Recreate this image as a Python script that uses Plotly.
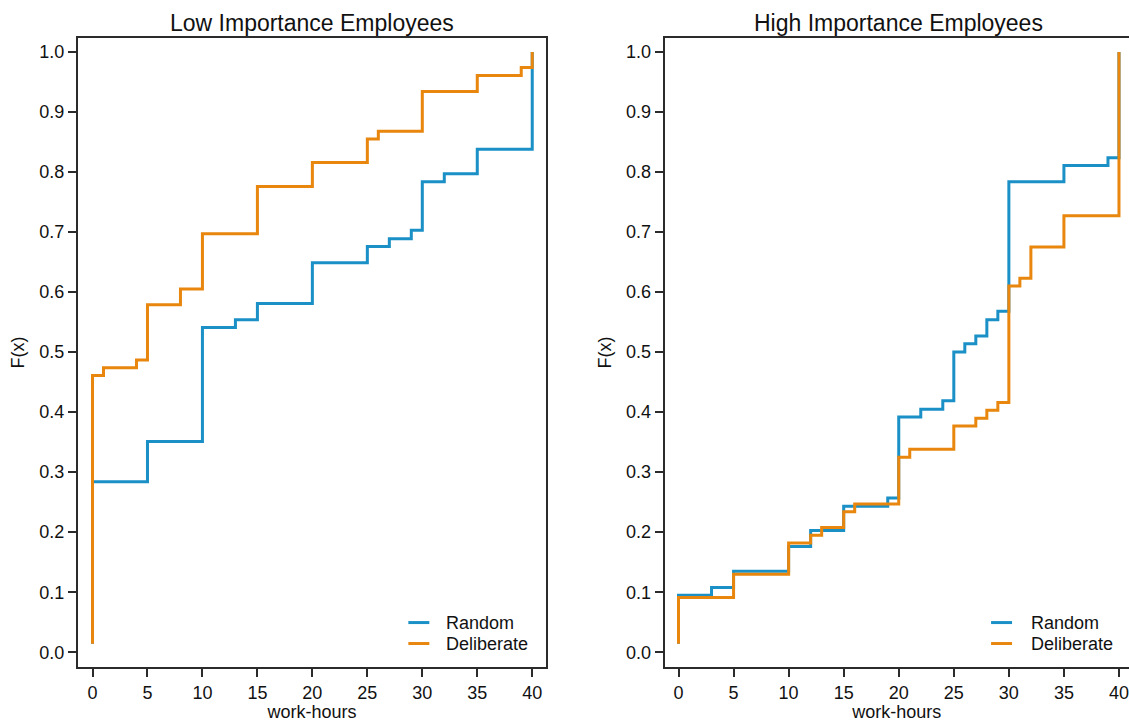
import plotly.graph_objects as go

# ---- data (step points: x where F jumps, F value after the jump) ----
low_random_x = [0, 0, 5, 10, 13, 15, 20, 25, 27, 29, 30, 32, 35, 40]
low_random_y = [0.014, 0.284, 0.351, 0.541, 0.554, 0.581, 0.649, 0.676, 0.689, 0.703, 0.784, 0.797, 0.838, 1.0]

low_delib_x = [0, 0, 1, 4, 5, 8, 10, 15, 20, 25, 26, 30, 35, 39, 40]
low_delib_y = [0.014, 0.461, 0.474, 0.487, 0.579, 0.605, 0.697, 0.776, 0.816, 0.855, 0.868, 0.934, 0.961, 0.974, 1.0]

high_random_x = [0, 0, 3, 5, 10, 12, 15, 19, 20, 22, 24, 25, 26, 27, 28, 29, 30, 35, 39, 40]
high_random_y = [0.014, 0.095, 0.108, 0.135, 0.176, 0.203, 0.243, 0.257, 0.392, 0.405, 0.419, 0.500, 0.514,
                 0.527, 0.554, 0.568, 0.784, 0.811, 0.824, 1.0]

high_delib_x = [0, 0, 5, 10, 12, 13, 15, 16, 20, 21, 25, 27, 28, 29, 30, 31, 32, 35, 40]
high_delib_y = [0.014, 0.091, 0.130, 0.182, 0.195, 0.208, 0.234, 0.247, 0.325, 0.338, 0.377, 0.390, 0.403,
                0.416, 0.610, 0.623, 0.675, 0.727, 1.0]

panel_titles = ["Low Importance Employees", "High Importance Employees"]
series_names = ["Random", "Deliberate"]
x_ticks = [0, 5, 10, 15, 20, 25, 30, 35, 40]
y_ticks = [0.0, 0.1, 0.2, 0.3, 0.4, 0.5, 0.6, 0.7, 0.8, 0.9, 1.0]

BLUE = "#1A90C6"
ORANGE = "#E8860E"
COLORS = [BLUE, ORANGE]
FONT = "Liberation Sans, Arial, sans-serif"
TXT = "#111111"
AX = "#2b2b2b"

W, H = 1129, 722
L, T, B = 77.5, 37.7, 54.5
PW = W - L
PH = H - T - B


def px_x(p):
    return (p - L) / PW


def px_y(p):
    return (H - B - p) / PH


fig = go.Figure()

panels = [
    ("x", "y", [(low_random_x, low_random_y), (low_delib_x, low_delib_y)]),
    ("x2", "y2", [(high_random_x, high_random_y), (high_delib_x, high_delib_y)]),
]
for xa, ya, series in panels:
    for (xs, ys), name, col in zip(series, series_names, COLORS):
        fig.add_trace(go.Scatter(x=xs, y=ys, mode="lines", line=dict(color=col, width=3, shape="hv"),
                                 name=name, xaxis=xa, yaxis=ya, showlegend=False))

axis_common = dict(showgrid=False, zeroline=False, showline=True, linecolor=AX, linewidth=2,
                   ticks="outside", ticklen=8, tickwidth=2, tickcolor=AX,
                   tickfont=dict(family=FONT, size=18, color=TXT))

d1 = [0, px_x(545.7)]
d2 = [px_x(664.3), 1.0]

fig.update_layout(
    width=W, height=H,
    margin=dict(l=L, r=0, t=T, b=B, autoexpand=False),
    paper_bgcolor="white", plot_bgcolor="white",
    font=dict(family=FONT, size=18, color=TXT),
    showlegend=False,
    xaxis=dict(domain=d1, range=[-1.32, 41.25], tickvals=x_ticks, mirror=True,
               title=dict(text="work-hours", font=dict(size=18), standoff=4), **axis_common),
    yaxis=dict(domain=[0, 1], range=[-0.0246, 1.0233], tickvals=y_ticks, tickformat=".1f", mirror=True,
               title=dict(text="F(x)", font=dict(size=18), standoff=10), **axis_common),
    xaxis2=dict(domain=d2, range=[-1.27, 40.91], tickvals=x_ticks, mirror=True, anchor="y2",
                title=dict(text="work-hours", font=dict(size=18), standoff=4), **axis_common),
    yaxis2=dict(domain=[0, 1], range=[-0.0246, 1.0233], tickvals=y_ticks, tickformat=".1f", mirror=False,
                anchor="x2", title=dict(text="F(x)", font=dict(size=18), standoff=10), **axis_common),
)

for title, cx in zip(panel_titles, [311.7, 898.6]):
    fig.add_annotation(text=title, x=px_x(cx), y=1, xref="paper", yref="paper",
                       xanchor="center", yanchor="bottom", showarrow=False,
                       font=dict(family=FONT, size=23, color=TXT))

# legends (one per panel): line sample + label
legend_pos = [(408, 429, 443.5), (991, 1012, 1029)]
row_y = [623, 644]
for (lx0, lx1, tx) in legend_pos:
    for name, col, ry in zip(series_names, COLORS, row_y):
        fig.add_shape(type="line", xref="paper", yref="paper", x0=px_x(lx0), x1=px_x(lx1),
                      y0=px_y(ry), y1=px_y(ry), line=dict(color=col, width=3))
        fig.add_annotation(text=name, x=px_x(tx), y=px_y(ry), xref="paper", yref="paper",
                           xanchor="left", yanchor="middle", showarrow=False,
                           font=dict(family=FONT, size=18, color=TXT))

fig.write_html("out.html", config={"displayModeBar": False},
               post_script="document.body.style.margin='0px';")
